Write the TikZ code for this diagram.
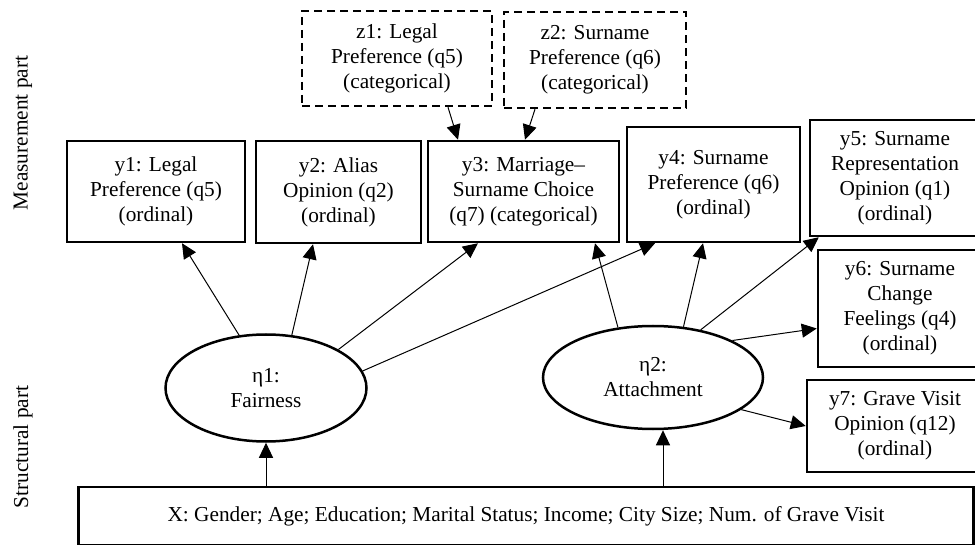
\documentclass[tikz,border=0pt]{standalone}
\usepackage{fontspec}
\setmainfont{Liberation Serif}
\usetikzlibrary{arrows.meta,shapes.geometric}
\tikzset{
  obs/.style={draw, line width=2.5pt, rectangle, align=center, inner sep=0pt,
              minimum width=#1},
  inst/.style={obs=#1, dash pattern=on 8pt off 5pt},
  lat/.style={ellipse, draw, line width=2.5pt, align=center, inner sep=0pt},
  arr/.style={-{Triangle[length=15pt,width=14pt]}, line width=1pt},
  side/.style={rotate=90},
}

\begin{document}
\begin{tikzpicture}[x=1pt, y=1pt,
    every node/.style={font=\fontsize{21.3}{25}\selectfont}]
\useasboundingbox (0,0) rectangle (975,-545);

%% side labels
\node[side] (meas) at (23,-133) {Measurement part};
\node[side] (struc) at (23,-447) {Structural part};

%% == instruments (dashed) ====================================================
\node[inst=190pt, minimum height=95pt] (z1) at (397,-58.5)
  {z1: Legal\\ Preference (q5)\\ (categorical)};
\node[inst=182pt, minimum height=96pt] (z2) at (595,-60)
  {z2: Surname\\ Preference (q6)\\ (categorical)};

%% == indicators ==============================================================
\node[obs=178pt, minimum height=101pt] (y1) at (156,-191.5)
  {y1: Legal\\ Preference (q5)\\ (ordinal)};
\node[obs=165pt, minimum height=102pt] (y2) at (338.5,-192)
  {y2: Alias\\ Opinion (q2)\\ (ordinal)};
\node[obs=191pt, minimum height=101pt] (y3) at (523.5,-191.5)
  {y3: Marriage--\\ Surname Choice\\ (q7) (categorical)};
\node[obs=173pt, minimum height=115pt] (y4) at (713.5,-184.5)
  {y4: Surname\\ Preference (q6)\\ (ordinal)};
\node[obs=170pt, minimum height=116pt] (y5) at (895,-178)
  {y5: Surname\\ Representation\\ Opinion (q1)\\ (ordinal)};
\node[obs=164pt, minimum height=117pt] (y6) at (900,-308.5)
  {y6: Surname\\ Change\\ Feelings (q4)\\ (ordinal)};
\node[obs=176pt, minimum height=92pt] (y7) at (895,-426)
  {y7: Grave Visit\\ Opinion (q12)\\ (ordinal)};

%% == latent factors ==========================================================
\node[lat, minimum width=201pt, minimum height=107pt] (eta1) at (266,-388)
  {η1:\\ Fairness};
\node[lat, minimum width=220pt, minimum height=103pt] (eta2) at (653,-377.5)
  {η2:\\ Attachment};

%% covariates
\node[obs=895pt, minimum height=58pt] (X) at (526,-516)
  {\raisebox{5pt}{X: Gender; Age; Education; Marital Status; Income; City Size; Num. of Grave Visit}};

%% == paths ===================================================================
\draw[arr] (X.north -| eta1.south) -- (eta1.south);
\draw[arr] ([xshift=10pt]X.north -| eta2.south) -- ([xshift=10pt]eta2.south);

\draw[arr] (eta1.117) -- ([xshift=26pt]y1.south);
\draw[arr] (eta1.64)  -- ([xshift=-25.5pt]y2.south);
\draw[arr] (eta1.28)  -- ([xshift=-45.5pt]y3.south);
\draw[arr] (eta1.10)  -- ([xshift=-58.5pt]y4.south);

\draw[arr] (eta2.125) -- ([xshift=71.5pt]y3.south);
\draw[arr] (eta2.59)  -- ([xshift=-10.5pt]y4.south);
\draw[arr] (eta2.45)  -- ([xshift=10pt]y5.south west);
\draw[arr] (eta2.25)  -- ([yshift=-20pt]y6.west);
\draw[arr] (eta2.-20) -- (y7.west);

\draw[arr] ([xshift=51pt]z1.south) -- ([xshift=-65.5pt]y3.north);
\draw[arr] ([xshift=-60pt]z2.south) -- ([xshift=1.5pt]y3.north);
\end{tikzpicture}
\end{document}
